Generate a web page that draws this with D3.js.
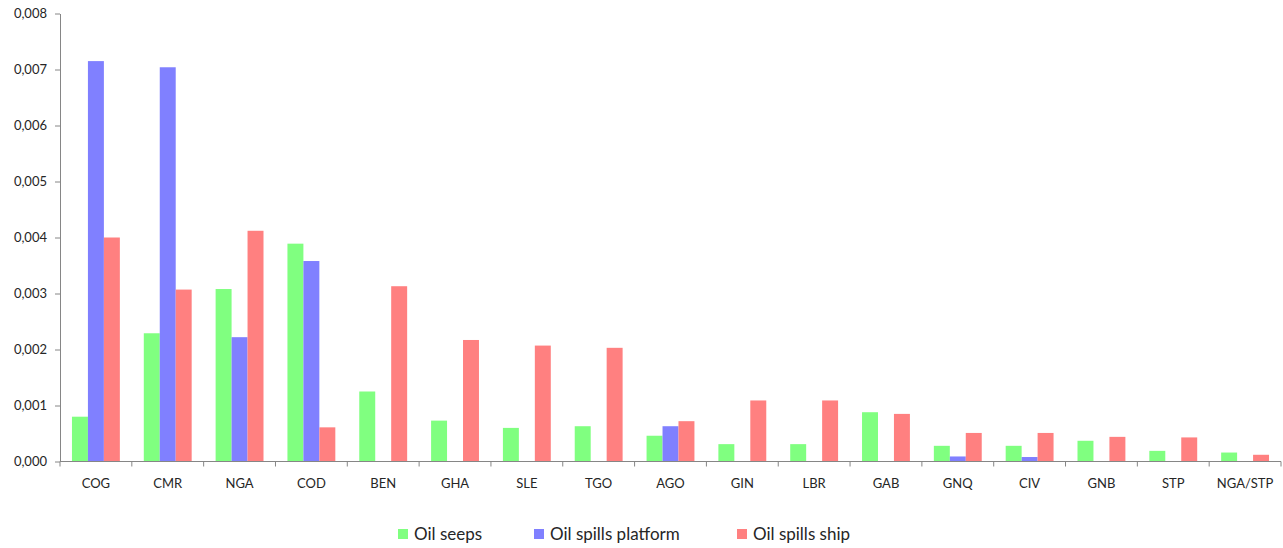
<!DOCTYPE html>
<html>
<head>
<meta charset="utf-8">
<script src="https://cdn.jsdelivr.net/npm/d3@7"></script>
<style>
  html, body { margin: 0; padding: 0; background: #fff; }
  svg text { font-family: Lato, "Open Sans", sans-serif; fill: #262626; }
</style>
</head>
<body>
<svg id="chart" width="1283" height="548"></svg>
<script>
// Source regions (country codes)
const categories = ["COG","CMR","NGA","COD","BEN","GHA","SLE","TGO","AGO","GIN","LBR","GAB","GNQ","CIV","GNB","STP","NGA/STP"];

// Series values
const oilSeeps          = [0.00080,0.00229,0.00308,0.00389,0.00125,0.00073,0.00060,0.00063,0.00046,0.00031,0.00031,0.00088,0.00028,0.00028,0.00037,0.00019,0.00016];
const oilSpillsPlatform = [0.00715,0.00704,0.00222,0.00358,0,0,0,0,0.00063,0,0,0,0.00009,0.00008,0,0,0];
const oilSpillsShip     = [0.00400,0.00307,0.00412,0.00061,0.00313,0.00217,0.00207,0.00203,0.00072,0.00109,0.00109,0.00085,0.00051,0.00051,0.00044,0.00043,0.00012];

const seriesNames  = ["Oil seeps","Oil spills platform","Oil spills ship"];
const seriesColors = ["#80ff80","#8080ff","#ff8080"];
const yTicks = [0,0.001,0.002,0.003,0.004,0.005,0.006,0.007,0.008];

const series = [oilSeeps, oilSpillsPlatform, oilSpillsShip];

const svg = d3.select("#chart");
const plotLeft = 60, plotRight = 1281, plotTop = 13.5, plotBottom = 461.5;

const x = d3.scaleBand().domain(categories).range([plotLeft, plotRight]).paddingInner(0).paddingOuter(0);
const inner = d3.scaleBand().domain(d3.range(series.length))
  .range([0, x.bandwidth()]).paddingInner(0).paddingOuter(0.75);
const y = d3.scaleLinear().domain([0, 0.008]).range([plotBottom, plotTop]);

const fmt = v => d3.format(".3f")(v).replace(".", ",");

// Bars
series.forEach((vals, si) => {
  svg.append("g")
    .selectAll("rect")
    .data(categories.map((c, i) => ({ c, v: vals[i] })))
    .join("rect")
    .attr("x", d => x(d.c) + inner(si))
    .attr("width", inner.bandwidth())
    .attr("y", d => y(d.v))
    .attr("height", d => plotBottom - y(d.v))
    .attr("fill", seriesColors[si]);
});

// Y axis
const yAxis = svg.append("g")
  .attr("transform", `translate(${plotLeft},0)`)
  .call(d3.axisLeft(y).tickValues(yTicks).tickFormat(fmt).tickSize(5).tickSizeOuter(0));
yAxis.select(".domain").attr("stroke", "#868686");
yAxis.selectAll(".tick line").attr("stroke", "#868686");
yAxis.selectAll(".tick text").attr("x", -13).style("font-size", "13px");

// X axis with tick marks at band boundaries
const xAxis = svg.append("g").attr("transform", `translate(0,${plotBottom})`);
xAxis.append("line").attr("x1", plotLeft).attr("x2", plotRight).attr("stroke", "#868686");
const bounds = categories.map(c => x(c)).concat([plotRight]);
xAxis.selectAll("line.tk").data(bounds).join("line")
  .attr("class", "tk")
  .attr("x1", d => d).attr("x2", d => d)
  .attr("y1", 0).attr("y2", 5)
  .attr("stroke", "#868686");
xAxis.selectAll("text").data(categories).join("text")
  .attr("x", d => x(d) + x.bandwidth() / 2)
  .attr("y", 26)
  .attr("text-anchor", "middle")
  .style("font-size", "13px")
  .text(d => d);

// Legend
const legendX = [398, 534, 737];
const legend = svg.append("g").attr("transform", "translate(0,534)");
seriesNames.forEach((n, i) => {
  legend.append("rect").attr("x", legendX[i]).attr("y", -5).attr("width", 10).attr("height", 10).attr("fill", seriesColors[i]);
  legend.append("text").attr("x", legendX[i] + 16).attr("y", 6).style("font-size", "17px").text(n);
});
</script>
</body>
</html>
